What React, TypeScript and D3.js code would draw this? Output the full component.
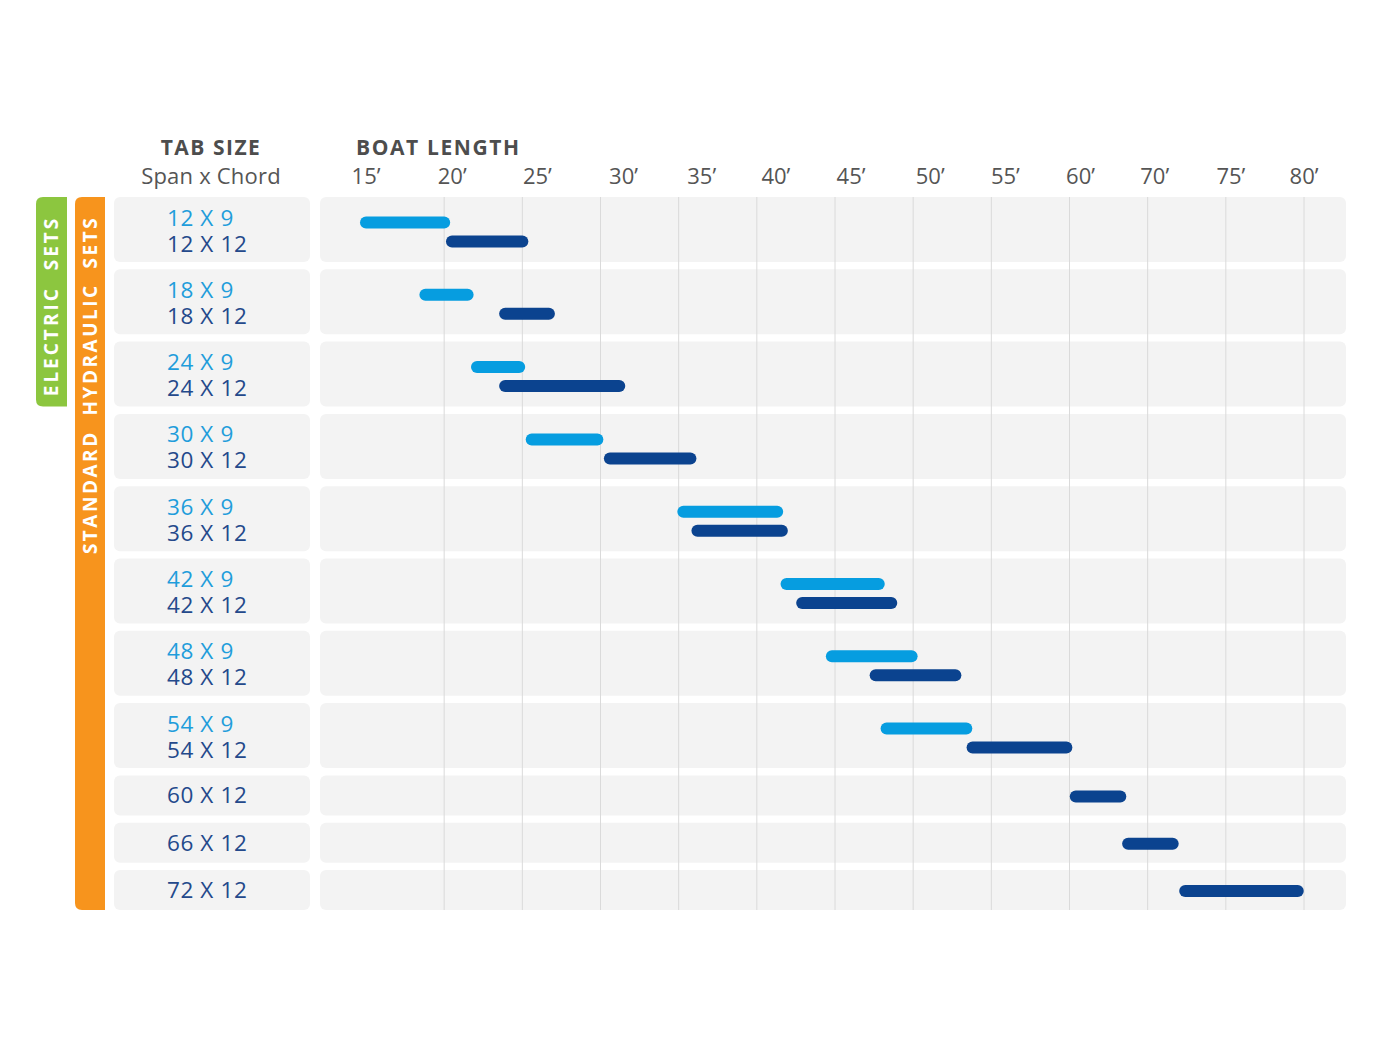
import React from "react";
import * as d3 from "d3";

// ---- data ----
const X_TICKS = [15, 20, 25, 30, 35, 40, 45, 50, 55, 60, 70, 75, 80];
const X_TICK_LABELS = X_TICKS.map((t) => `${t}’`);
const SPANS = [12, 18, 24, 30, 36, 42, 48, 54, 60, 66, 72];
const CHORD9_START = [15, 18.8, 22.1, 25.6, 35.3, 41.9, 44.8, 48.3, null, null, null];
const CHORD9_END = [20, 21.5, 24.8, 29.8, 41.3, 47.8, 49.9, 53.4, null, null, null];
const CHORD12_START = [20.5, 23.9, 23.9, 30.6, 36.2, 42.9, 47.6, 53.8, 60.8, 67.5, 72.4];
const CHORD12_END = [25, 26.7, 31.2, 35.75, 41.6, 48.6, 52.7, 59.8, 66.5, 71.6, 79.6];
const ELECTRIC_ROWS = 3;

// ---- layout / style ----
const TICK_LABEL_NUDGE = [0, 8, 15, 23, 23, 19, 16, 17, 14, 11, 7, 5, 0];
const LIGHT = "#069de0";
const DARK = "#0b438f";
const LIGHT_TEXT = "#1f9ddb";
const DARK_TEXT = "#24498b";
const ROW_BG = "#f3f3f3";
const GREEN = "#8cc63f";
const ORANGE = "#f7941d";
const FONT = "'Open Sans', sans-serif";

const TOP = 197;
const DOUBLE_H = 65;
const SINGLE_H = 40;
const GAP = 7.3;
const PLOT_X0 = 320;
const PLOT_X1 = 1346;
const LBL_X0 = 114;
const LBL_X1 = 310;
const BAR_W = 12;

function leftRounded(x: number, y: number, w: number, h: number, r: number) {
  return `M${x + w},${y} H${x + r} Q${x},${y} ${x},${y + r} V${y + h - r} Q${x},${y + h} ${x + r},${y + h} H${x + w} Z`;
}

export default function App() {
  const idx = d3.scaleLinear().domain(X_TICKS).range(d3.range(X_TICKS.length));
  const px = d3.scaleLinear().domain([0, X_TICKS.length - 1]).range([366, 1304]);
  const x = (v: number) => px(idx(v));

  const rows = SPANS.map((s, i) => ({
    span: s,
    double: CHORD9_START[i] !== null,
    s9: CHORD9_START[i],
    e9: CHORD9_END[i],
    s12: CHORD12_START[i],
    e12: CHORD12_END[i],
  }));
  const heights = rows.map((r) => (r.double ? DOUBLE_H : SINGLE_H));
  const tops: number[] = [];
  let acc = TOP;
  heights.forEach((h) => {
    tops.push(acc);
    acc += h + GAP;
  });
  const bottom = tops[tops.length - 1] + heights[heights.length - 1];
  const electricBottom = tops[ELECTRIC_ROWS - 1] + heights[ELECTRIC_ROWS - 1];

  const lbl = { fontFamily: FONT, fontSize: 22.5, letterSpacing: 0.6 } as const;

  return (
    <div style={{ position: "absolute", left: 0, top: 0 }}>
      <svg width={1384} height={1049} style={{ display: "block", background: "#fff" }}>
        {/* headers */}
        <text x={211} y={155} textAnchor="middle" fontFamily={FONT} fontWeight={700} fontSize={21} letterSpacing={1.5} fill="#4d4d4d">
          TAB SIZE
        </text>
        <text x={211} y={184} textAnchor="middle" fontFamily={FONT} fontSize={22} letterSpacing={0.2} fill="#555">
          Span x Chord
        </text>
        <text x={356} y={155} fontFamily={FONT} fontWeight={700} fontSize={21} letterSpacing={1.6} fill="#4d4d4d">
          BOAT LENGTH
        </text>
        {X_TICKS.map((t, i) => (
          <text key={t} x={x(t) + TICK_LABEL_NUDGE[i]} y={184} textAnchor="middle" fontFamily={FONT} fontSize={22} fill="#555">
            {X_TICK_LABELS[i]}
          </text>
        ))}

        {/* side bands */}
        <path d={leftRounded(36, TOP, 31, electricBottom - TOP, 7)} fill={GREEN} />
        <path d={leftRounded(75, TOP, 30, bottom - TOP, 7)} fill={ORANGE} />
        <text
          transform={`translate(${57.5},${306}) rotate(-90)`}
          textAnchor="middle"
          fontFamily={FONT}
          fontWeight={700}
          fontSize={19}
          letterSpacing={3}
          fill="#fff"
          style={{ whiteSpace: "pre" }}
        >
          {"ELECTRIC  SETS"}
        </text>
        <text
          transform={`translate(${96.5},${385}) rotate(-90)`}
          textAnchor="middle"
          fontFamily={FONT}
          fontWeight={700}
          fontSize={19}
          letterSpacing={2.5}
          fill="#fff"
          style={{ whiteSpace: "pre" }}
        >
          {"STANDARD  HYDRAULIC  SETS"}
        </text>

        {/* rows */}
        {rows.map((r, i) => (
          <g key={r.span}>
            <rect x={LBL_X0} y={tops[i]} width={LBL_X1 - LBL_X0} height={heights[i]} rx={6} fill={ROW_BG} />
            <rect x={PLOT_X0} y={tops[i]} width={PLOT_X1 - PLOT_X0} height={heights[i]} rx={6} fill={ROW_BG} />
          </g>
        ))}

        {/* gridlines */}
        {X_TICKS.slice(1).map((t) => (
          <line key={t} x1={x(t)} x2={x(t)} y1={TOP} y2={bottom} stroke="#dadada" strokeWidth={1} />
        ))}

        {/* labels and bars */}
        {rows.map((r, i) => {
          const t = tops[i];
          if (r.double) {
            return (
              <g key={r.span}>
                <text x={167} y={t + 28.5} {...lbl} fill={LIGHT_TEXT}>{`${r.span} X 9`}</text>
                <text x={167} y={t + 54.5} {...lbl} fill={DARK_TEXT}>{`${r.span} X 12`}</text>
                <line x1={x(r.s9 as number)} x2={x(r.e9 as number)} y1={t + 25.5} y2={t + 25.5} stroke={LIGHT} strokeWidth={BAR_W} strokeLinecap="round" />
                <line x1={x(r.s12)} x2={x(r.e12)} y1={t + 44.5} y2={t + 44.5} stroke={DARK} strokeWidth={BAR_W} strokeLinecap="round" />
              </g>
            );
          }
          const c = t + heights[i] / 2;
          return (
            <g key={r.span}>
              <text x={167} y={c + 8} {...lbl} fill={DARK_TEXT}>{`${r.span} X 12`}</text>
              <line x1={x(r.s12)} x2={x(r.e12)} y1={c + 1} y2={c + 1} stroke={DARK} strokeWidth={BAR_W} strokeLinecap="round" />
            </g>
          );
        })}
      </svg>
    </div>
  );
}
